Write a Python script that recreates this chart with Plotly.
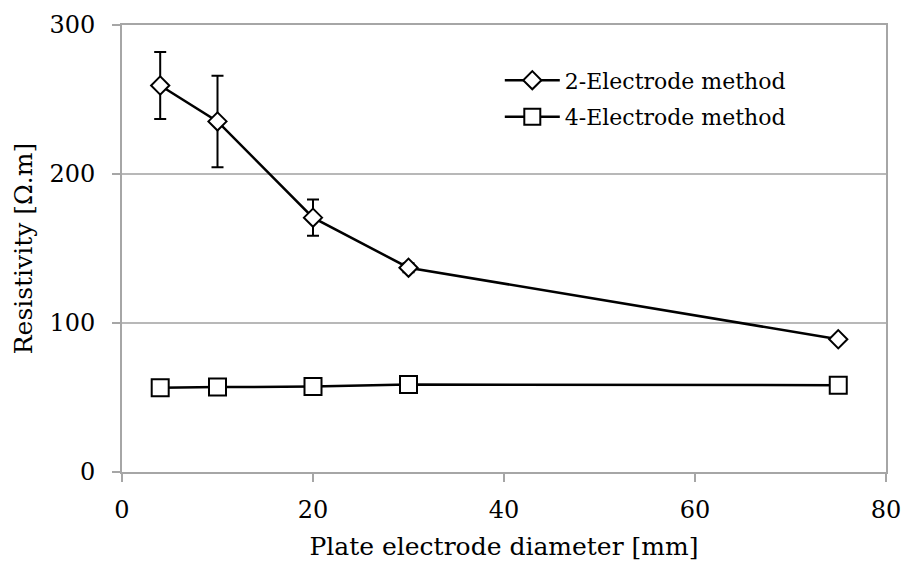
import plotly.graph_objects as go

# Datos
diametro = [4, 10, 20, 30, 75]
res_2e = [259.4, 235.3, 170.7, 137.1, 89.1]
err_2e = [22.5, 30.7, 12.2, 3, 1.5]
res_4e = [56.5, 57.0, 57.3, 58.7, 58.3]

FUENTE = 'DejaVu Serif'
GRIS = '#a6a6a6'

fig = go.Figure()

fig.add_trace(
    go.Scatter(
        x=diametro,
        y=res_2e,
        name='2-Electrode method',
        legendgroup='a',
        mode='lines+markers',
        line=dict(color='black', width=2.5),
        marker=dict(symbol='diamond', size=14, color='white',
                    line=dict(color='black', width=2)),
        error_y=dict(type='data', array=err_2e, visible=True,
                     color='black', thickness=2, width=6)
    )
)

fig.add_trace(
    go.Scatter(
        x=diametro,
        y=res_4e,
        name='4-Electrode method',
        legendgroup='b',
        mode='lines+markers',
        line=dict(color='black', width=2.5),
        marker=dict(symbol='square', size=17, color='white',
                    line=dict(color='black', width=2))
    )
)

fig.update_layout(
    width=902,
    height=567,
    margin=dict(l=122, r=16, t=25, b=95),
    plot_bgcolor='white',
    paper_bgcolor='white',
    font=dict(family=FUENTE, size=25, color='black'),
    showlegend=True,
    legend=dict(
        x=0.4945,
        y=0.923,
        xanchor='left',
        yanchor='top',
        bgcolor='rgba(0,0,0,0)',
        font=dict(size=22),
        itemwidth=55,
        traceorder='grouped',
        tracegroupgap=5
    )
)

fig.update_xaxes(
    range=[0, 80],
    dtick=20,
    automargin=False,
    title=dict(text='Plate electrode diameter [mm]', font=dict(size=25), standoff=15),
    showline=True,
    linecolor=GRIS,
    linewidth=2,
    mirror=True,
    ticks='outside',
    ticklen=8,
    tickcolor=GRIS,
    tickwidth=1.5,
    ticklabelstandoff=7,
    showgrid=False,
    zeroline=False,
    tickfont=dict(size=24)
)

fig.update_yaxes(
    range=[0, 300],
    dtick=100,
    automargin=False,
    title=dict(text='Resistivity [Ω.m]', font=dict(size=25), standoff=10),
    showline=True,
    linecolor=GRIS,
    linewidth=2,
    mirror=True,
    ticks='outside',
    ticklen=8,
    tickcolor=GRIS,
    tickwidth=1.5,
    ticklabelstandoff=12,
    showgrid=True,
    gridcolor='#b8b8b8',
    gridwidth=1.5,
    zeroline=False,
    tickfont=dict(size=24)
)

# quitar el margen por defecto del body para que la figura ocupe toda la ventana
fig.write_html(
    "out.html",
    config={'displayModeBar': False},
    post_script="document.body.style.margin='0';document.body.style.overflow='hidden';"
)
